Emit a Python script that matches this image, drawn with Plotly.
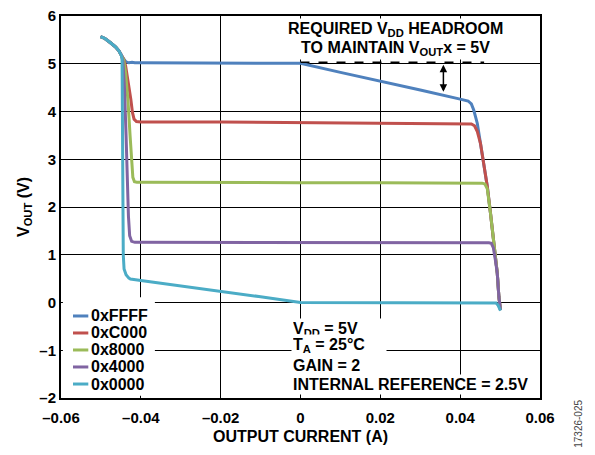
import numpy as np
import plotly.graph_objects as go

# shared overload knee at negative currents (all codes), A / V
head_i = [-0.0501, -0.0490, -0.0476, -0.0463, -0.0455, -0.0449]
head_v = [5.57, 5.53, 5.44, 5.35, 5.27, 5.18]

i_ffff = [-0.0443, -0.0437, -0.0430, -0.0422, -0.0415, -0.040, -0.030, -0.020, -0.010, 0.0,
          0.010, 0.020, 0.030, 0.040, 0.0420, 0.0428, 0.0434, 0.0443, 0.0451, 0.0459, 0.0468,
          0.0476, 0.0484, 0.0493, 0.0497, 0.0501]
v_ffff = [5.10, 5.04, 5.02, 5.03, 5.02, 5.02, 5.02, 5.02, 5.01, 5.01,
          4.82, 4.64, 4.45, 4.26, 4.22, 4.16, 4.03, 3.75, 3.33, 2.92, 2.43,
          1.87, 1.24, 0.61, 0.12, -0.16]

i_c000 = [-0.0443, -0.0438, -0.0431, -0.0425, -0.0421, -0.0417, -0.0411, -0.040, -0.020, 0.0,
          0.020, 0.040, 0.0428, 0.0436, 0.0443, 0.0451, 0.0459, 0.0468, 0.0476, 0.0484,
          0.0493, 0.0497, 0.0501]
v_c000 = [5.10, 4.95, 4.60, 4.25, 3.98, 3.84, 3.79, 3.78, 3.78, 3.77,
          3.76, 3.75, 3.74, 3.70, 3.58, 3.33, 2.92, 2.43, 1.87, 1.24,
          0.61, 0.12, -0.16]

i_8000 = [-0.0443, -0.0438, -0.0432, -0.0427, -0.0423, -0.0420, -0.0416, -0.0410, -0.040, -0.020,
          0.0, 0.020, 0.040, 0.0455, 0.0462, 0.0468, 0.0476, 0.0484, 0.0493, 0.0497, 0.0501]
v_8000 = [5.08, 4.80, 4.20, 3.50, 2.90, 2.62, 2.53, 2.52, 2.52, 2.51,
          2.51, 2.51, 2.50, 2.50, 2.48, 2.38, 1.87, 1.24, 0.61, 0.12, -0.16]

i_4000 = [-0.0445, -0.0441, -0.0437, -0.0434, -0.0431, -0.0428, -0.0423, -0.0415, -0.040, -0.020,
          0.0, 0.020, 0.040, 0.0472, 0.0478, 0.0483, 0.0488, 0.0493, 0.0497, 0.0501]
v_4000 = [5.05, 4.50, 3.50, 2.60, 1.80, 1.40, 1.28, 1.26, 1.26, 1.26,
          1.25, 1.25, 1.25, 1.25, 1.24, 1.15, 0.90, 0.61, 0.12, -0.16]

i_0000 = [-0.0447, -0.0446, -0.0444, -0.0442, -0.0437, -0.0430, -0.0426, -0.040, -0.030, -0.020,
          -0.010, 0.0, 0.020, 0.040, 0.0485, 0.0490, 0.0495, 0.0501]
v_0000 = [5.10, 3.00, 1.00, 0.70, 0.58, 0.51, 0.49, 0.46, 0.35, 0.23,
          0.12, 0.0, 0.0, 0.0, 0.0, -0.01, -0.06, -0.17]

codes = ["0xFFFF", "0xC000", "0x8000", "0x4000", "0x0000"]
colors = ["#4F81BD", "#C0504D", "#9BBB59", "#8064A2", "#4BACC6"]
currents = [i_ffff, i_c000, i_8000, i_4000, i_0000]
voltages = [v_ffff, v_c000, v_8000, v_4000, v_0000]

x_ticks = [-0.06, -0.04, -0.02, 0, 0.02, 0.04, 0.06]
x_ticktext = ["–0.06", "–0.04", "–0.02", "0", "0.02", "0.04", "0.06"]
y_ticks = [-2, -1, 0, 1, 2, 3, 4, 5, 6]
y_ticktext = ["–2", "–1", "0", "1", "2", "3", "4", "5", "6"]

FONT = "Liberation Sans, Arial, sans-serif"
bold = dict(family=FONT, size=16, color="black", weight="bold")

fig = go.Figure()
for name, col, ii, vv in zip(codes, colors, currents, voltages):
    fig.add_trace(go.Scatter(x=head_i + ii, y=head_v + vv, mode="lines", name=name,
                             line=dict(color=col, width=3), showlegend=False))

axis = dict(showgrid=True, gridcolor="black", gridwidth=1, showline=True, linecolor="black",
            linewidth=2, mirror=True, zeroline=False, ticks="", automargin=False,
            ticklabeloverflow="allow",
            tickfont=dict(family=FONT, size=15, color="black", weight="bold"))
fig.update_xaxes(axis, range=[-0.06, 0.06], tickvals=x_ticks, ticktext=x_ticktext,
                 ticklabelstandoff=5, title=dict(text="OUTPUT CURRENT (A)", font=bold, standoff=6))
fig.update_yaxes(axis, range=[-2, 6], tickvals=y_ticks, ticktext=y_ticktext,
                 title=dict(text="V<sub>OUT</sub> (V)", font=bold, standoff=6))

# headroom marker
fig.add_shape(type="line", x0=0, x1=0.046, y0=5.03, y1=5.03,
              line=dict(color="black", width=1.5, dash="dash"))
arrow_x = 0.0358
fig.add_annotation(x=arrow_x, y=4.98, ax=arrow_x, ay=float(np.interp(arrow_x, i_ffff, v_ffff)) + 0.04,
                   axref="x", ayref="y", text="", showarrow=True, arrowhead=2, startarrowhead=2,
                   arrowside="end+start", arrowsize=1, arrowwidth=1.5, arrowcolor="black")

fig.add_annotation(x=0.0238, y=5.71, text="REQUIRED V<sub>DD</sub> HEADROOM", showarrow=False,
                   font=bold, bgcolor="white", borderpad=1)
fig.add_annotation(x=0.0238, y=5.31, text="TO MAINTAIN V<sub>OUT</sub>x = 5V", showarrow=False,
                   font=bold, bgcolor="white", borderpad=1)

cond = ["V<sub>DD</sub> = 5V", "T<sub>A</sub> = 25°C", "GAIN = 2", "INTERNAL REFERENCE = 2.5V"]
cond_y = [-0.56, -0.91, -1.31, -1.71]
for k, (t, yy) in enumerate(zip(cond, cond_y)):
    fig.add_annotation(x=-0.0023, y=yy, text=t, showarrow=False, xanchor="left", align="left",
                       font=bold, bgcolor="white", borderpad=1, width=92 if k < 3 else None)

# legend block
fig.add_shape(type="rect", xref="paper", yref="paper", x0=0.004, x1=0.196, y0=0.006, y1=0.264,
              fillcolor="white", line=dict(width=0), layer="above")
row_y = [0.2147, 0.1702, 0.1257, 0.0812, 0.0366]
for name, col, ry in zip(codes, colors, row_y):
    fig.add_shape(type="line", xref="paper", yref="paper", x0=0.025, x1=0.057, y0=ry, y1=ry,
                  line=dict(color=col, width=3), layer="above")
    fig.add_annotation(xref="paper", yref="paper", x=0.058, y=ry, text=name, showarrow=False,
                       xanchor="left", yanchor="middle", font=bold)

fig.add_annotation(xref="paper", yref="paper", x=1.081, y=-0.068, text="17326-025", showarrow=False,
                   xanchor="center", yanchor="middle", textangle=-90,
                   font=dict(family=FONT, size=10, color="#444"))

# the page body adds an 8 px offset, so the figure is 8 px smaller and shifted
fig.update_layout(width=587, height=447, margin=dict(l=53, r=55, t=8, b=57, autoexpand=False),
                  paper_bgcolor="white", plot_bgcolor="white", font=dict(family=FONT, color="black"))

fig.write_html("out.html")
